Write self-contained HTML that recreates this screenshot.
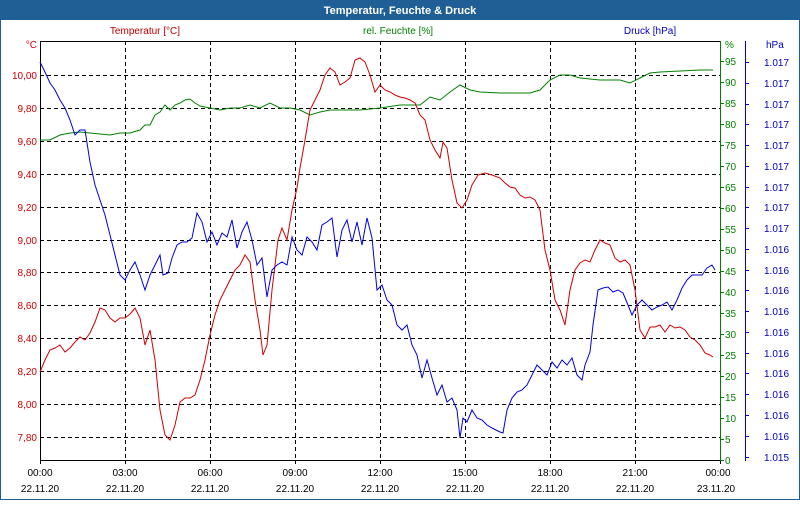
<!DOCTYPE html>
<html><head><meta charset="utf-8"><style>
body{margin:0;width:800px;height:500px;overflow:hidden;background:#fff;font-family:"Liberation Sans",sans-serif}
svg text{font-family:"Liberation Sans",sans-serif;font-size:10px}
</style></head><body>
<svg width="800" height="500" xmlns="http://www.w3.org/2000/svg">
<rect x="0" y="0" width="800" height="500" fill="#fff" stroke="#1f5f95" stroke-width="2"/>
<rect x="0" y="0" width="800" height="20" fill="#1f5f95"/>
<text x="400" y="14" text-anchor="middle" fill="#fff" font-weight="bold" style="font-size:11px">Temperatur, Feuchte &amp; Druck</text>
<text x="145" y="34" text-anchor="middle" fill="#c00000">Temperatur [°C]</text>
<text x="398" y="34" text-anchor="middle" fill="#008000">rel. Feuchte [%]</text>
<text x="650" y="34" text-anchor="middle" fill="#0000c0">Druck [hPa]</text>
<!-- grid -->
<g stroke="#000" stroke-dasharray="4,3" stroke-width="1">
<line x1="40" x2="720" y1="75.5" y2="75.5"/><line x1="40" x2="720" y1="108.5" y2="108.5"/><line x1="40" x2="720" y1="141.5" y2="141.5"/><line x1="40" x2="720" y1="174.5" y2="174.5"/><line x1="40" x2="720" y1="207.5" y2="207.5"/><line x1="40" x2="720" y1="240.5" y2="240.5"/><line x1="40" x2="720" y1="272.5" y2="272.5"/><line x1="40" x2="720" y1="305.5" y2="305.5"/><line x1="40" x2="720" y1="338.5" y2="338.5"/><line x1="40" x2="720" y1="371.5" y2="371.5"/><line x1="40" x2="720" y1="404.5" y2="404.5"/><line x1="40" x2="720" y1="437.5" y2="437.5"/>
<line y1="41" y2="460" x1="125.5" x2="125.5"/><line y1="41" y2="460" x1="210.5" x2="210.5"/><line y1="41" y2="460" x1="295.5" x2="295.5"/><line y1="41" y2="460" x1="380.5" x2="380.5"/><line y1="41" y2="460" x1="465.5" x2="465.5"/><line y1="41" y2="460" x1="550.5" x2="550.5"/><line y1="41" y2="460" x1="635.5" x2="635.5"/>
</g>
<line x1="40" x2="720" y1="41.5" y2="41.5" stroke="#000"/>
<line x1="40.5" x2="40.5" y1="41" y2="460" stroke="#000"/>
<line x1="40" x2="720" y1="460.5" y2="460.5" stroke="#000"/>
<line x1="720.5" x2="720.5" y1="41" y2="461" stroke="#008000"/>
<line x1="745.5" x2="745.5" y1="41" y2="461" stroke="#0000e0"/>
<g stroke="#000"><line x1="40.5" x2="40.5" y1="460" y2="464"/><line x1="125.5" x2="125.5" y1="460" y2="464"/><line x1="210.5" x2="210.5" y1="460" y2="464"/><line x1="295.5" x2="295.5" y1="460" y2="464"/><line x1="380.5" x2="380.5" y1="460" y2="464"/><line x1="465.5" x2="465.5" y1="460" y2="464"/><line x1="550.5" x2="550.5" y1="460" y2="464"/><line x1="635.5" x2="635.5" y1="460" y2="464"/><line x1="720.5" x2="720.5" y1="460" y2="464"/></g>
<!-- left labels -->
<g fill="#d00000" text-anchor="end">
<text x="37" y="48">°C</text>
<text x="37" y="79">10,00</text><text x="37" y="112">9,80</text><text x="37" y="145">9,60</text><text x="37" y="178">9,40</text><text x="37" y="211">9,20</text><text x="37" y="244">9,00</text><text x="37" y="276">8,80</text><text x="37" y="309">8,60</text><text x="37" y="342">8,40</text><text x="37" y="375">8,20</text><text x="37" y="408">8,00</text><text x="37" y="441">7,80</text>
</g>
<!-- green labels -->
<g stroke="#008000"><line x1="720" x2="724" y1="460.5" y2="460.5"/><line x1="720" x2="724" y1="439.5" y2="439.5"/><line x1="720" x2="724" y1="418.5" y2="418.5"/><line x1="720" x2="724" y1="397.5" y2="397.5"/><line x1="720" x2="724" y1="376.5" y2="376.5"/><line x1="720" x2="724" y1="355.5" y2="355.5"/><line x1="720" x2="724" y1="334.5" y2="334.5"/><line x1="720" x2="724" y1="313.5" y2="313.5"/><line x1="720" x2="724" y1="292.5" y2="292.5"/><line x1="720" x2="724" y1="271.5" y2="271.5"/><line x1="720" x2="724" y1="250.5" y2="250.5"/><line x1="720" x2="724" y1="229.5" y2="229.5"/><line x1="720" x2="724" y1="208.5" y2="208.5"/><line x1="720" x2="724" y1="187.5" y2="187.5"/><line x1="720" x2="724" y1="166.5" y2="166.5"/><line x1="720" x2="724" y1="145.5" y2="145.5"/><line x1="720" x2="724" y1="124.5" y2="124.5"/><line x1="720" x2="724" y1="103.5" y2="103.5"/><line x1="720" x2="724" y1="82.5" y2="82.5"/><line x1="720" x2="724" y1="61.5" y2="61.5"/></g>
<g fill="#008000">
<text x="725" y="48">%</text>
<text x="725" y="464">0</text><text x="725" y="443">5</text><text x="725" y="422">10</text><text x="725" y="401">15</text><text x="725" y="380">20</text><text x="725" y="359">25</text><text x="725" y="338">30</text><text x="725" y="317">35</text><text x="725" y="296">40</text><text x="725" y="275">45</text><text x="725" y="254">50</text><text x="725" y="233">55</text><text x="725" y="212">60</text><text x="725" y="191">65</text><text x="725" y="170">70</text><text x="725" y="149">75</text><text x="725" y="128">80</text><text x="725" y="107">85</text><text x="725" y="86">90</text><text x="725" y="65">95</text>
</g>
<!-- blue labels -->
<g fill="#0000c0">
<text x="766" y="48">hPa</text>
<text x="764" y="66">1.017</text><text x="764" y="87">1.017</text><text x="764" y="108">1.017</text><text x="764" y="128">1.017</text><text x="764" y="149">1.017</text><text x="764" y="170">1.017</text><text x="764" y="191">1.017</text><text x="764" y="211">1.017</text><text x="764" y="232">1.017</text><text x="764" y="253">1.016</text><text x="764" y="274">1.016</text><text x="764" y="294">1.016</text><text x="764" y="315">1.016</text><text x="764" y="336">1.016</text><text x="764" y="357">1.016</text><text x="764" y="377">1.016</text><text x="764" y="398">1.016</text><text x="764" y="419">1.016</text><text x="764" y="440">1.016</text><text x="764" y="461">1.015</text>
</g>
<g stroke="#0000e0"><line x1="745" x2="749" y1="62.5" y2="62.5"/><line x1="745" x2="749" y1="83.5" y2="83.5"/><line x1="745" x2="749" y1="104.5" y2="104.5"/><line x1="745" x2="749" y1="124.5" y2="124.5"/><line x1="745" x2="749" y1="145.5" y2="145.5"/><line x1="745" x2="749" y1="166.5" y2="166.5"/><line x1="745" x2="749" y1="187.5" y2="187.5"/><line x1="745" x2="749" y1="207.5" y2="207.5"/><line x1="745" x2="749" y1="228.5" y2="228.5"/><line x1="745" x2="749" y1="249.5" y2="249.5"/><line x1="745" x2="749" y1="270.5" y2="270.5"/><line x1="745" x2="749" y1="290.5" y2="290.5"/><line x1="745" x2="749" y1="311.5" y2="311.5"/><line x1="745" x2="749" y1="332.5" y2="332.5"/><line x1="745" x2="749" y1="353.5" y2="353.5"/><line x1="745" x2="749" y1="373.5" y2="373.5"/><line x1="745" x2="749" y1="394.5" y2="394.5"/><line x1="745" x2="749" y1="415.5" y2="415.5"/><line x1="745" x2="749" y1="436.5" y2="436.5"/><line x1="745" x2="749" y1="457.5" y2="457.5"/></g>
<!-- x labels -->
<g fill="#000" text-anchor="middle">
<text x="40" y="476">00:00</text><text x="125" y="476">03:00</text><text x="210" y="476">06:00</text><text x="295" y="476">09:00</text><text x="380" y="476">12:00</text><text x="465" y="476">15:00</text><text x="550" y="476">18:00</text><text x="635" y="476">21:00</text><text x="718" y="476">00:00</text>
<text x="40" y="492">22.11.20</text><text x="125" y="492">22.11.20</text><text x="210" y="492">22.11.20</text><text x="295" y="492">22.11.20</text><text x="380" y="492">22.11.20</text><text x="465" y="492">22.11.20</text><text x="550" y="492">22.11.20</text><text x="635" y="492">22.11.20</text><text x="716" y="492">23.11.20</text>
</g>
<!-- series -->
<polyline fill="none" stroke="#008000" stroke-width="1" points="40,140 50,140 60,135 70,133 80,132 90,133 100,134 110,135 120,133 130,133 140,130 145,125 150,125 155,115 160,112 165,105 170,110 175,105 180,103 185,100 190,99 195,103 200,106 210,108 220,110 230,108 240,108 250,105 260,108 270,103 280,108 290,108 300,110 310,115 320,112 330,110 340,110 360,110 380,108 400,105 420,105 430,97 440,100 450,92 460,85 470,90 480,92 500,93 520,93 530,93 540,90 545,85 550,80 560,75 570,75 580,78 600,80 620,80 630,83 640,78 650,73 660,72 680,71 700,70 713,70"/>
<polyline fill="none" stroke="#d00000" stroke-width="1" points="40,372 45,360 50,350 55,348 60,345 65,352 70,348 75,342 80,337 85,340 90,333 95,322 100,308 105,310 110,318 115,322 120,318 125,318 130,314 135,308 140,318 145,345 150,330 155,360 160,410 165,435 170,440 175,425 180,402 185,398 190,398 195,395 200,380 205,360 210,335 215,315 220,300 225,290 230,280 235,270 240,265 245,255 250,262 255,300 260,330 263,355 267,345 272,290 278,240 282,228 287,240 292,210 297,188 300,168 305,140 310,110 315,100 320,90 325,75 330,68 335,72 340,85 345,82 350,78 355,60 360,58 365,62 370,75 375,92 380,85 385,90 390,92 395,95 400,97 405,98 410,100 415,103 420,115 425,120 430,140 435,150 440,158 443,142 447,148 452,180 457,203 462,208 467,200 472,185 478,175 485,173 492,175 500,178 505,183 510,187 515,188 520,195 525,198 530,197 535,200 540,210 545,250 550,270 555,300 560,310 565,325 570,290 575,270 580,263 585,260 590,262 595,250 600,240 605,243 610,245 615,258 620,262 625,260 630,265 635,290 640,330 645,338 650,327 655,327 660,325 665,332 670,325 675,328 680,327 685,330 690,337 695,340 700,345 705,353 710,355 713,357"/>
<polyline fill="none" stroke="#0000e0" stroke-width="1" points="40,62 45,72 50,83 55,90 60,100 65,108 70,120 75,135 80,130 85,130 90,162 95,185 100,200 105,215 110,235 115,255 120,275 125,280 130,270 135,262 140,275 145,290 150,275 155,265 160,255 163,275 168,273 172,258 177,245 182,242 187,242 192,238 197,213 202,222 207,242 212,232 217,245 222,233 227,237 232,220 237,248 242,232 247,222 252,240 257,265 262,258 267,297 272,270 277,265 282,262 287,265 292,237 297,250 302,255 307,237 312,242 317,250 322,225 327,222 332,218 337,257 342,230 347,220 352,242 357,222 362,245 367,218 372,238 377,290 382,285 387,300 392,305 397,325 402,330 407,325 412,345 417,355 422,378 427,360 432,378 437,395 442,385 447,402 452,398 457,410 460,438 463,418 467,422 472,410 477,418 482,420 487,425 492,428 500,432 503,433 507,410 512,398 517,392 522,390 527,385 532,375 537,365 542,370 547,375 552,362 557,368 562,360 567,365 572,358 577,375 582,380 585,365 590,352 593,325 598,290 603,288 608,287 613,292 618,290 623,293 628,305 632,315 637,305 642,300 647,305 652,310 657,307 662,305 667,302 672,310 677,300 682,288 687,280 692,275 697,275 702,275 707,268 712,265 715,270"/>
</svg>
</body></html>
